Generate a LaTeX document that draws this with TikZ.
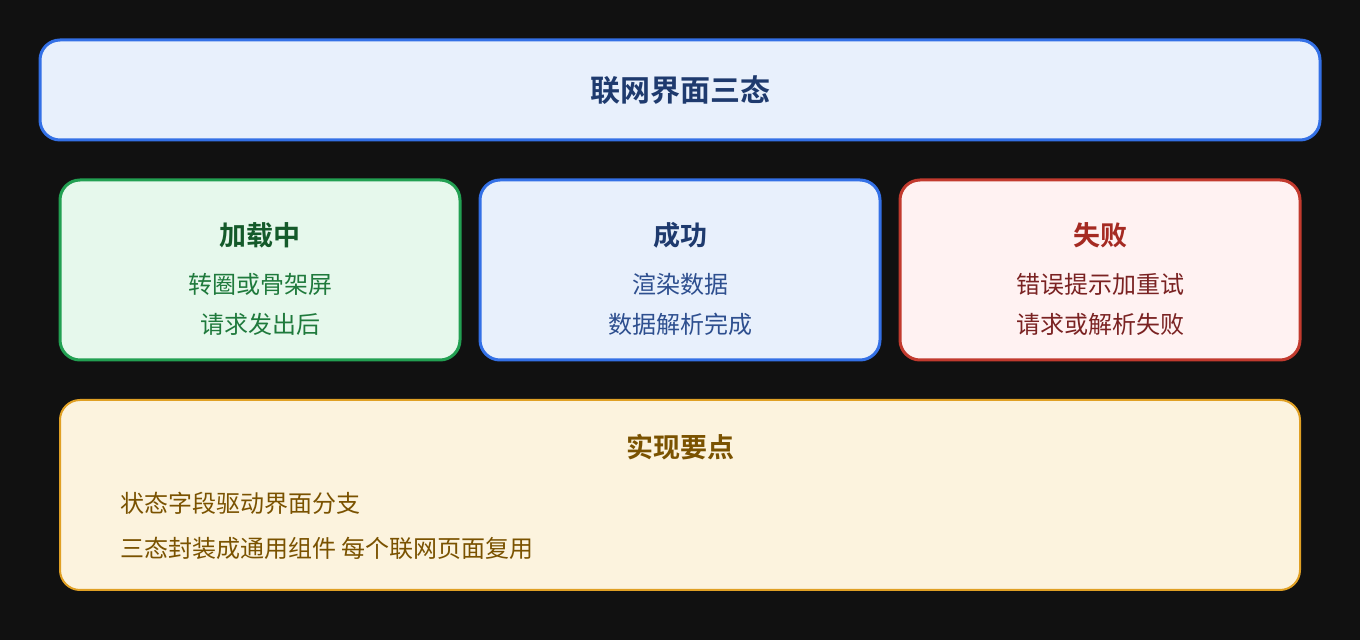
\documentclass[tikz,border=0pt]{standalone}
\usepackage{fontspec}
\setmainfont{Noto Sans CJK SC}[BoldFont={Noto Sans CJK SC Bold}]
\usepackage{xcolor}

\definecolor{bgdark}{HTML}{111111}
\definecolor{blueline}{HTML}{3370E6}
\definecolor{bluefill}{HTML}{E8F0FC}
\definecolor{bluetext}{HTML}{1E3A6E}
\definecolor{bluebody}{HTML}{2E4F8F}
\definecolor{greenline}{HTML}{22A052}
\definecolor{greenfill}{HTML}{E6F8EC}
\definecolor{greentext}{HTML}{145A2A}
\definecolor{greenbody}{HTML}{1F7A3C}
\definecolor{redline}{HTML}{C23A2E}
\definecolor{redfill}{HTML}{FFF2F2}
\definecolor{redtext}{HTML}{A52A22}
\definecolor{redbody}{HTML}{7A2222}
\definecolor{goldline}{HTML}{E0A024}
\definecolor{goldfill}{HTML}{FCF3DE}
\definecolor{goldtext}{HTML}{7A5200}

\begin{document}
\begin{tikzpicture}[x=0.5pt,y=-0.5pt,
    box/.style={line width=1.5pt,rounded corners=10pt},
    headtext/.style={font=\bfseries\fontsize{13.5}{16}\selectfont},
    bodytext/.style={font=\fontsize{12}{14}\selectfont}]
        % background
        \fill[bgdark] (0,0) rectangle (1360,640);

        % title bar
        \draw[box,draw=blueline,fill=bluefill] (40,40) rectangle (1320,140);
        \node[font=\bfseries\fontsize{15}{18}\selectfont,text=bluetext] (title) at (680,90) {联网界面三态};

        % loading state
        \draw[box,draw=greenline,fill=greenfill] (60,180) rectangle (460,360);
        \node[headtext,text=greentext] (loadhead) at (260,235) {加载中};
        \node[bodytext,text=greenbody] (loadone) at (260,284) {转圈或骨架屏};
        \node[bodytext,text=greenbody] (loadtwo) at (260,324) {请求发出后};

        % success state
        \draw[box,draw=blueline,fill=bluefill] (480,180) rectangle (880,360);
        \node[headtext,text=bluetext] (okhead) at (680,235) {成功};
        \node[bodytext,text=bluebody] (okone) at (680,284) {渲染数据};
        \node[bodytext,text=bluebody] (oktwo) at (680,324) {数据解析完成};

        % failure state
        \draw[box,draw=redline,fill=redfill] (900,180) rectangle (1300,360);
        \node[headtext,text=redtext] (failhead) at (1100,235) {失败};
        \node[bodytext,text=redbody] (failone) at (1100,284) {错误提示加重试};
        \node[bodytext,text=redbody] (failtwo) at (1100,324) {请求或解析失败};

        % notes
        \draw[line width=1pt,rounded corners=10pt,draw=goldline,fill=goldfill] (60,400) rectangle (1300,590);
        \node[headtext,text=goldtext] (notehead) at (680,447) {实现要点};
        \node[bodytext,text=goldtext,anchor=west,inner sep=0pt] (noteone) at (120,503) {状态字段驱动界面分支};
        \node[bodytext,text=goldtext,anchor=west,inner sep=0pt] (notetwo) at (120,548) {三态封装成通用组件 每个联网页面复用};
    \end{tikzpicture}
\end{document}
